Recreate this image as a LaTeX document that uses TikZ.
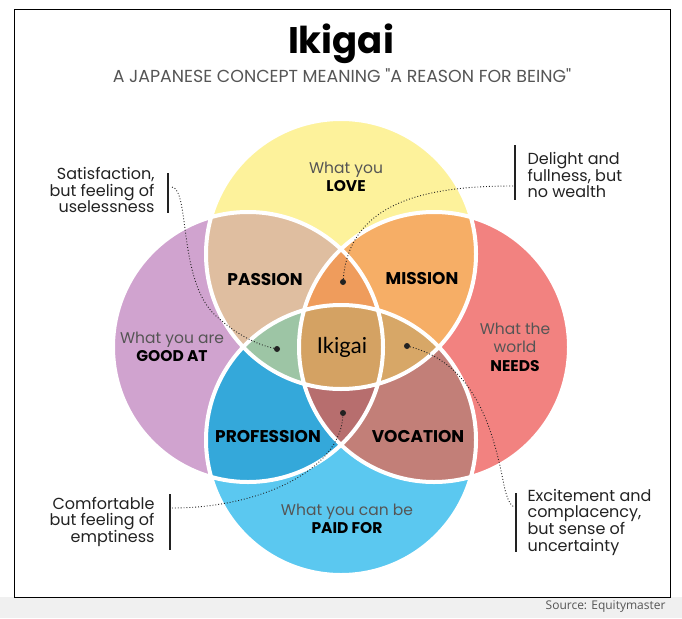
\documentclass[tikz,border=0pt]{standalone}
\usepackage{fontspec}
\setmainfont{Poppins}
\newfontfamily\latofont{Lato}
\newfontfamily\srcfont{Open Sans}
\definecolor{love}{RGB}{253,242,155}
\definecolor{good}{RGB}{208,163,207}
\definecolor{needs}{RGB}{242,130,128}
\definecolor{paid}{RGB}{91,200,240}
\definecolor{passion}{RGB}{223,190,160}
\definecolor{mission}{RGB}{246,174,102}
\definecolor{profession}{RGB}{52,168,218}
\definecolor{vocation}{RGB}{194,127,120}
\definecolor{triT}{RGB}{239,156,92}
\definecolor{triL}{RGB}{157,197,165}
\definecolor{triR}{RGB}{215,167,103}
\definecolor{triB}{RGB}{183,110,110}
\definecolor{core}{RGB}{212,162,99}
\definecolor{softgray}{RGB}{85,85,85}
\definecolor{inkgray}{RGB}{34,34,34}
\tikzset{
  ring/.style={draw=white, line width=4pt},
  what/.style={align=center, text=softgray, font=\fontsize{15.5}{18.5}\selectfont},
  region/.style={font=\bfseries\fontsize{17}{19}\selectfont},
  note/.style={text=inkgray, font=\fontsize{16}{16.3}\selectfont},
  hint/.style={dotted, line width=0.9pt, inkgray},
  bar/.style={line width=1.8pt, inkgray},
  spot/.style={circle, fill=inkgray, inner sep=0pt, minimum size=6pt},
}
\begin{document}
\begin{tikzpicture}[x=1pt,y=-1pt]
	\useasboundingbox (0,0) rectangle (682,618);
	\fill[black!6] (0,597) rectangle (682,618);
	\draw[line width=1pt] (14,10) rectangle (670,597);
	\node[font=\bfseries\fontsize{37}{39}\selectfont] (title) at (341,44) {Ikigai};
	\node[text=softgray, font=\fontsize{17.4}{19}\selectfont] (subtitle) at (342,76) {A JAPANESE CONCEPT MEANING \textquotedbl A REASON FOR BEING\textquotedbl};
	\node[anchor=east, text=softgray, font=\srcfont\fontsize{12}{13}\selectfont] (source) at (669,607) {Source: Equitymaster};
	% four circles
	\coordinate (T) at (341,254);
	\coordinate (B) at (341,440);
	\coordinate (L) at (248,347);
	\coordinate (R) at (434,347);
	\foreach \c/\col in {T/love, B/paid, L/good, R/needs}
		\fill[\col] (\c) circle[radius=135pt];
	\foreach \a/\b/\col in {T/L/passion, T/R/mission, B/L/profession, B/R/vocation}
		{\begin{scope}
			\clip (\a) circle[radius=135pt];
			\fill[\col] (\b) circle[radius=135pt];
		\end{scope}}
	\foreach \a/\b/\c/\col in {L/R/T/triT, T/B/L/triL, T/B/R/triR, L/R/B/triB}
		{\begin{scope}
			\clip (\a) circle[radius=135pt];
			\clip (\b) circle[radius=135pt];
			\fill[\col] (\c) circle[radius=135pt];
		\end{scope}}
	\begin{scope}
		\clip (T) circle[radius=135pt];
		\clip (B) circle[radius=135pt];
		\clip (L) circle[radius=135pt];
		\fill[core] (R) circle[radius=135pt];
	\end{scope}
	\foreach \c in {T,B,L,R}
		\draw[ring] (\c) circle[radius=135pt];
	% labels
	\node[what] (love) at (346,177) {What you\\\textbf{\color{black}LOVE}};
	\node[what] (good) at (172,347) {What you are\\\textbf{\color{black}GOOD AT}};
	\node[what] (needs) at (515,347) {What the\\world\\\textbf{\color{black}NEEDS}};
	\node[what] (paid) at (347,519) {What you can be\\\textbf{\color{black}PAID FOR}};
	\node[region] (passion) at (265,280) {PASSION};
	\node[region] (mission) at (422,279) {MISSION};
	\node[region] (profession) at (268,437) {PROFESSION};
	\node[region] (vocation) at (418,437) {VOCATION};
	\node[font=\latofont\fontsize{22}{24}\selectfont] (ikigai) at (342,347) {Ikigai};
	% notes
	\node[note, anchor=east, align=right] (useless) at (158,190) {Satisfaction,\\but feeling of\\uselessness};
	\node[note, anchor=west, align=left] (wealth) at (524,175) {Delight and\\fullness, but\\no wealth};
	\node[note, anchor=east, align=right] (empty) at (158,522) {Comfortable\\but feeling of\\emptiness};
	\node[note, anchor=west, align=left] (unsure) at (524,522) {Excitement and\\complacency,\\but sense of\\uncertainty};
	\draw[bar] (168,173) -- (168,213);
	\draw[bar] (515,145) -- (515,200);
	\draw[bar] (170,494) -- (170,550);
	\draw[bar] (516,493) -- (516,552);
	\node[spot] (dotL) at (277,349) {};
	\node[spot] (dotT) at (343,282) {};
	\node[spot] (dotB) at (343,413) {};
	\node[spot] (dotR) at (407,346) {};
	\coordinate (barL) at (172,187);
	\coordinate (barT) at (513,186);
	\coordinate (barB) at (172,508);
	\coordinate (barR) at (514,507);
	\draw[hint] (barL) .. controls (190,190) and (178,280) .. (215,315) .. controls (240,338) and (260,345) .. (dotL);
	\draw[hint] (barT) .. controls (430,186) and (350,200) .. (dotT);
	\draw[hint] (barB) .. controls (260,508) and (340,470) .. (dotB);
	\draw[hint] (dotR) .. controls (480,365) and (495,440) .. (505,490) .. controls (508,500) and (510,505) .. (barR);
\end{tikzpicture}
\end{document}
